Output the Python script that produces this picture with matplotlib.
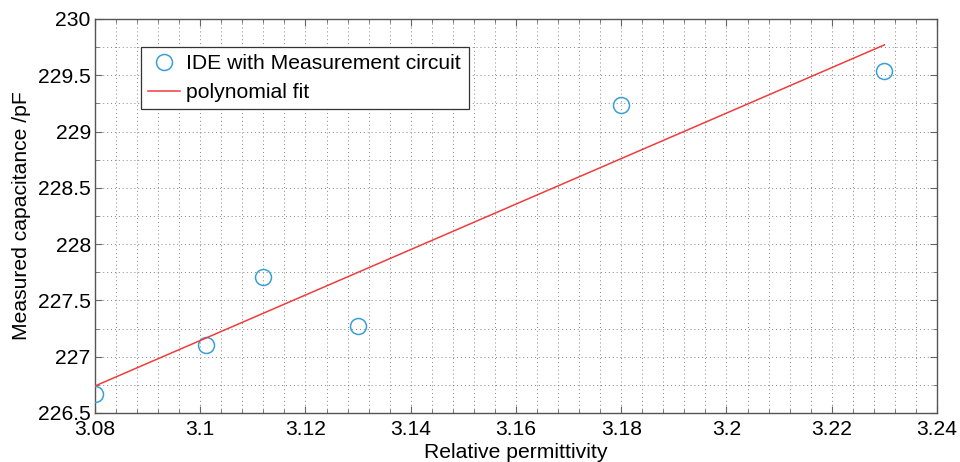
import matplotlib
matplotlib.use("Agg")
import matplotlib.pyplot as plt
from matplotlib.ticker import MultipleLocator

plt.rcParams['font.family'] = ['Liberation Sans', 'DejaVu Sans']

# data
permittivity = [3.08, 3.101, 3.112, 3.130, 3.180, 3.230]
capacitance = [226.67, 227.10, 227.705, 227.275, 229.24, 229.537]
fit_x = [3.08, 3.23]
fit_y = [226.74, 229.77]
xticks = [3.08, 3.10, 3.12, 3.14, 3.16, 3.18, 3.20, 3.22, 3.24]
xtick_labels = ['3.08', '3.1', '3.12', '3.14', '3.16', '3.18', '3.2', '3.22', '3.24']
yticks = [226.5, 227, 227.5, 228, 228.5, 229, 229.5, 230]
ytick_labels = ['226.5', '227', '227.5', '228', '228.5', '229', '229.5', '230']

FS = 15.2

fig = plt.figure(figsize=(9.6, 4.62), dpi=100)
ax = fig.add_axes([95/960, 1-413/462, (937-95)/960, (413-19)/462])

ax.plot(permittivity, capacitance, linestyle='none', marker='o', markersize=11.5,
        markerfacecolor='none', markeredgecolor='#3a9fd6', markeredgewidth=1.1,
        label='IDE with Measurement circuit', zorder=3)
ax.plot(fit_x, fit_y, color='#f03c3c', linewidth=1.1, label='polynomial fit', zorder=3)

ax.set_xlim(3.08, 3.24)
ax.set_ylim(226.5, 230)
ax.set_xticks(xticks)
ax.set_xticklabels(xtick_labels)
ax.set_yticks(yticks)
ax.set_yticklabels(ytick_labels)
ax.xaxis.set_minor_locator(MultipleLocator(0.004))
ax.yaxis.set_minor_locator(MultipleLocator(0.25))

ax.grid(which='both', linestyle=(0, (1, 3)), color='#666666', linewidth=0.7, alpha=0.8)
ax.tick_params(which='both', direction='in', top=True, right=True,
               labelsize=FS, color='#666666')
ax.tick_params(axis='x', pad=5)
ax.tick_params(axis='y', pad=3)
ax.tick_params(which='major', length=5)
ax.tick_params(which='minor', length=3)
for s in ax.spines.values():
    s.set_color('#555555')
    s.set_linewidth(1.0)

ax.set_xlabel('Relative permittivity', fontsize=FS, labelpad=3)
ax.set_ylabel('Measured capacitance /pF', fontsize=FS, labelpad=5)

leg = ax.legend(loc='upper left', bbox_to_anchor=(46/842, 1-28/394), fontsize=FS,
                frameon=True, fancybox=False, edgecolor='#333333', framealpha=1,
                handlelength=1.5, borderpad=0.35, labelspacing=0.45, handletextpad=0.3,
                borderaxespad=0)
leg.get_frame().set_linewidth(0.9)

fig.savefig('out.png', dpi=100)
